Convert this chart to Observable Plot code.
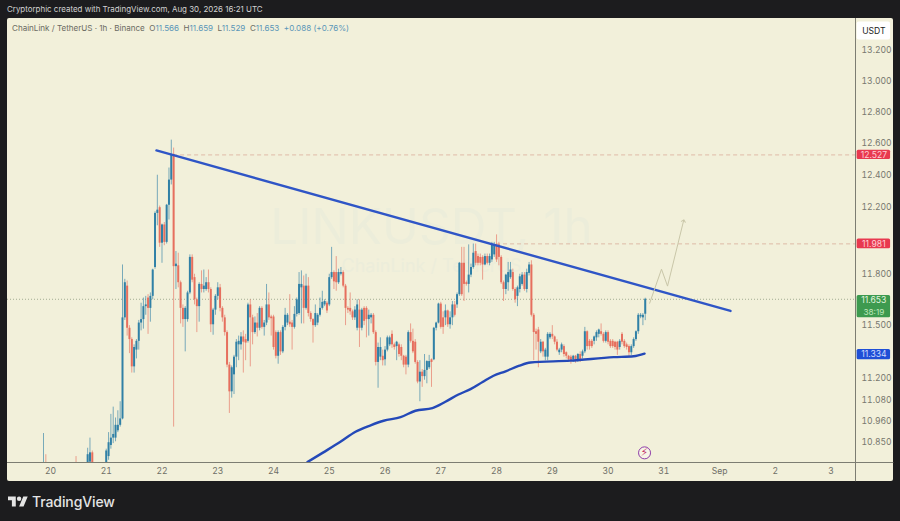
<!DOCTYPE html>
<html>
<head>
<meta charset="utf-8">
<script src="https://cdn.jsdelivr.net/npm/d3@7"></script>
<script src="https://cdn.jsdelivr.net/npm/@observablehq/plot@0.6"></script>
<style>
html,body{margin:0;padding:0;background:#1c1c1e;width:900px;height:521px;overflow:hidden;font-family:Inter,"Liberation Sans",sans-serif}
#head{height:18px;line-height:19px;padding-left:7px;font-size:7.95px;color:#d2d2d2;white-space:nowrap}
#wrap{position:relative;margin-left:7px;width:886px;height:463px}
#wrap svg{display:block;border-radius:2px}
#legend{position:absolute;left:5px;top:5px;font-size:8.05px;line-height:11px;color:#6b6b62;white-space:nowrap}
#legend b{font-weight:400;color:#5a96b8}
#foot{position:relative;height:40px;color:#e4e4e4;font-size:14px;font-weight:500;white-space:nowrap}
#foot svg{position:absolute;left:8px;top:13px}
#foot span{position:absolute;left:32px;top:12px;letter-spacing:-.1px}
</style>
</head>
<body>
<div id="head">Cryptorphic created with TradingView.com, Aug 30, 2026 16:21 UTC</div>
<div id="wrap">
  <div id="chart"></div>
  <div id="legend">ChainLink / TetherUS · 1h · Binance&nbsp; O<b>11.566</b>&nbsp; H<b>11.659</b>&nbsp; L<b>11.529</b>&nbsp; C<b>11.653</b>&nbsp; <b>+0.088 (+0.76%)</b></div>
</div>
<div id="foot">
  <svg width="20" height="16" viewBox="0 0 36 28"><path fill="#e4e4e4" d="M14 22H7V11H0V4h14v18zM28 22h-8l7.5-18h8L28 22z"/><circle fill="#e4e4e4" cx="20" cy="8" r="4"/></svg>
  <span>TradingView</span>
</div>
<script>
// Hourly candles, first one at 19 Aug 21:00 UTC (null = below the visible range)
const firstHour = -3;
const opens = [10.70,10.73,null,null,null,null,null,null,null,null,null,null,null,null,10.72,null,null,null,null,10.73,10.74,10.79,null,null,null,null,null,10.72,10.77,10.83,10.87,10.87,10.91,10.94,
10.975,11.545,11.73,11.485,11.42,11.265,11.36,11.41,11.515,11.535,
11.61,11.66,11.60,11.67,11.84,12.165,12.20,11.985,12.095,11.99,
12.215,12.37,12.53,11.845,11.85,11.75,11.60,11.535,11.535,11.69,
11.90,11.78,11.65,11.61,11.74,11.71,11.71,11.75,11.71,11.505,
11.59,11.67,11.72,11.60,11.545,11.46,11.275,11.125,11.22,11.32,
11.39,11.39,11.435,11.42,11.41,11.62,11.545,11.46,11.515,11.485,
11.60,11.49,11.515,11.62,11.55,11.55,11.46,11.325,11.46,11.35,
11.49,11.515,11.52,11.515,11.49,11.565,11.57,11.72,11.73,11.60,
11.73,11.57,11.535,11.50,11.515,11.56,11.60,11.62,11.63,11.62,
11.78,11.81,11.81,11.75,11.80,11.81,11.73,11.60,11.60,11.58,
11.545,11.485,11.59,11.485,11.60,11.60,11.535,11.545,11.56,11.46,
11.29,11.32,11.325,11.305,11.36,11.39,11.45,11.39,11.38,11.39,
11.375,11.325,11.32,11.275,11.46,11.41,11.405,11.29,11.18,11.235,
11.21,11.245,11.26,11.305,11.305,11.485,11.515,11.625,11.545,11.545,
11.585,11.505,11.545,11.62,11.62,11.68,11.865,11.865,11.75,11.74,
11.795,11.84,11.935,11.905,11.90,11.90,11.855,11.905,11.865,11.885,
11.915,11.975,11.975,11.90,11.75,11.71,11.75,11.78,11.81,11.71,
11.67,11.71,11.74,11.795,11.71,11.805,11.855,11.56,11.465,11.475,
11.35,11.405,11.32,11.32,11.43,11.45,11.435,11.405,11.345,11.36,
11.38,11.345,11.325,11.32,11.305,11.325,11.30,11.335,11.325,11.35,
11.465,11.41,11.41,11.41,11.43,11.45,11.465,11.45,11.41,11.46,
11.41,11.41,11.405,11.405,11.375,11.45,11.41,11.39,11.38,11.345,
11.38,11.42,11.465,11.55,11.545,11.566];
const closes = [10.73,10.70,null,null,null,null,null,null,null,null,null,null,null,null,10.70,null,null,null,null,10.78,10.79,10.72,null,null,null,null,null,10.80,10.845,10.87,10.89,10.94,10.94,10.975,
11.545,11.75,11.485,11.42,11.265,11.375,11.41,11.515,11.535,11.61,
11.62,11.60,11.67,11.825,12.165,12.185,11.985,12.095,11.99,12.215,
12.37,12.53,11.845,11.86,11.75,11.60,11.535,11.60,11.69,11.90,
11.765,11.65,11.61,11.74,11.71,11.73,11.75,11.71,11.505,11.59,
11.67,11.72,11.60,11.545,11.46,11.275,11.125,11.26,11.32,11.405,
11.41,11.435,11.405,11.40,11.62,11.545,11.46,11.515,11.485,11.60,
11.49,11.515,11.62,11.545,11.54,11.375,11.325,11.46,11.35,11.49,
11.56,11.56,11.505,11.49,11.565,11.65,11.74,11.74,11.60,11.73,
11.57,11.535,11.50,11.57,11.56,11.60,11.635,11.64,11.585,11.78,
11.81,11.755,11.75,11.81,11.81,11.73,11.60,11.59,11.58,11.545,
11.59,11.62,11.485,11.59,11.525,11.535,11.56,11.56,11.46,11.29,
11.375,11.375,11.30,11.36,11.43,11.43,11.39,11.375,11.405,11.335,
11.325,11.275,11.275,11.46,11.41,11.35,11.29,11.18,11.235,11.21,
11.245,11.295,11.295,11.29,11.485,11.515,11.625,11.49,11.49,11.585,
11.505,11.545,11.62,11.56,11.68,11.865,11.68,11.74,11.74,11.795,
11.84,11.925,11.865,11.865,11.865,11.855,11.905,11.865,11.905,11.975,
11.975,11.885,11.90,11.75,11.71,11.795,11.81,11.825,11.71,11.65,
11.72,11.785,11.795,11.71,11.81,11.855,11.56,11.46,11.45,11.405,
11.405,11.35,11.36,11.45,11.45,11.435,11.405,11.36,11.36,11.39,
11.335,11.325,11.305,11.30,11.325,11.30,11.335,11.305,11.35,11.465,
11.38,11.38,11.38,11.435,11.46,11.475,11.45,11.41,11.46,11.405,
11.38,11.38,11.375,11.36,11.41,11.405,11.38,11.375,11.345,11.38,
11.42,11.465,11.56,11.56,11.56,11.653];
const highs = [10.895,10.78,null,null,null,null,null,null,null,null,null,null,null,null,10.77,null,null,null,null,10.815,10.87,10.80,null,null,null,null,null,10.81,10.90,11.00,11.04,10.98,11.02,11.07,
11.855,11.77,11.76,11.50,11.43,11.39,11.42,11.53,11.63,11.66,
11.67,11.68,11.69,11.83,12.175,12.40,12.21,12.10,12.11,12.22,
12.445,12.62,12.57,11.935,11.925,11.76,11.62,11.61,11.70,11.915,
11.915,11.80,11.66,11.75,11.82,11.825,11.78,11.825,11.72,11.60,
11.68,11.75,11.74,11.61,11.56,11.47,11.29,11.27,11.33,11.42,
11.44,11.46,11.47,11.45,11.63,11.65,11.56,11.55,11.57,11.61,
11.61,11.53,11.74,11.69,11.56,11.56,11.47,11.47,11.47,11.50,
11.60,11.57,11.68,11.53,11.61,11.66,11.81,11.82,11.79,11.80,
11.78,11.58,11.54,11.62,11.57,11.66,11.70,11.65,11.64,11.80,
11.96,11.82,11.905,11.83,11.84,11.82,11.74,11.61,11.69,11.59,
11.61,11.65,11.65,11.60,11.61,11.61,11.59,11.57,11.57,11.47,
11.40,11.43,11.36,11.38,11.44,11.44,11.47,11.40,11.41,11.40,
11.39,11.33,11.33,11.47,11.51,11.48,11.42,11.30,11.30,11.25,
11.335,11.30,11.33,11.31,11.49,11.52,11.63,11.635,11.58,11.62,
11.59,11.58,11.64,11.64,11.69,11.87,11.96,11.96,11.76,11.975,
11.86,11.98,11.98,11.92,11.92,11.91,11.92,11.92,11.92,11.99,
11.99,12.035,11.99,11.91,11.76,11.80,11.87,11.87,11.83,11.72,
11.73,11.80,11.81,11.81,11.83,11.87,11.88,11.57,11.48,11.49,
11.42,11.41,11.37,11.46,11.46,11.50,11.44,11.42,11.37,11.40,
11.39,11.35,11.33,11.33,11.33,11.33,11.34,11.35,11.36,11.49,
11.47,11.42,11.42,11.44,11.47,11.48,11.51,11.46,11.47,11.47,
11.42,11.42,11.41,11.41,11.42,11.46,11.42,11.40,11.39,11.39,
11.43,11.47,11.57,11.57,11.57,11.659];
const lows = [10.68,10.68,null,null,null,null,null,null,null,null,null,null,null,null,10.68,null,null,null,null,10.70,10.70,10.70,null,null,null,null,null,10.70,10.75,10.81,10.84,10.85,10.90,10.93,
10.97,11.53,11.44,11.34,11.23,11.23,11.31,11.36,11.47,11.48,
11.56,11.45,11.52,11.65,11.83,12.09,11.96,11.865,11.97,11.98,
12.125,12.34,10.93,11.71,11.72,11.51,11.49,11.35,11.52,11.68,
11.75,11.62,11.46,11.52,11.69,11.69,11.70,11.69,11.46,11.445,
11.56,11.65,11.58,11.52,11.44,11.26,11.005,11.09,11.11,11.26,
11.30,11.36,11.23,11.30,11.40,11.265,11.39,11.45,11.435,11.47,
11.48,11.44,11.50,11.53,11.44,11.36,11.31,11.28,11.33,11.34,
11.47,11.50,11.49,11.36,11.48,11.55,11.56,11.51,11.51,11.59,
11.55,11.52,11.40,11.49,11.50,11.55,11.59,11.61,11.57,11.61,
11.77,11.71,11.70,11.74,11.79,11.72,11.50,11.57,11.56,11.53,
11.53,11.47,11.375,11.47,11.50,11.43,11.44,11.51,11.45,11.27,
11.145,11.30,11.27,11.27,11.35,11.38,11.37,11.36,11.30,11.32,
11.30,11.26,11.22,11.26,11.40,11.34,11.28,11.17,11.07,11.15,
11.19,11.17,11.25,11.15,11.30,11.47,11.51,11.48,11.45,11.50,
11.49,11.48,11.50,11.55,11.60,11.67,11.67,11.64,11.73,11.69,
11.78,11.83,11.85,11.85,11.85,11.765,11.85,11.855,11.85,11.87,
11.90,11.87,11.85,11.74,11.64,11.68,11.70,11.77,11.70,11.63,
11.61,11.69,11.73,11.70,11.69,11.79,11.55,11.30,11.36,11.26,
11.34,11.32,11.30,11.30,11.42,11.42,11.39,11.35,11.33,11.345,
11.32,11.31,11.29,11.28,11.29,11.285,11.29,11.29,11.31,11.34,
11.36,11.36,11.37,11.39,11.41,11.43,11.44,11.40,11.40,11.39,
11.37,11.37,11.36,11.33,11.36,11.39,11.37,11.36,11.32,11.33,
11.37,11.41,11.45,11.54,11.50,11.529];

// Drawn lines (hours after 20 Aug 00:00 UTC, price)
const trendHours = [45.6, 292.7];
const trendPrices = [12.555, 11.585];
const curveHours = [110.6,117.1,124.8,131.3,137.8,143.4,150.7,157.1,164.4,170,175.6,180.8,186,190.7,195.9,201.5,206.6,223.8,242.4,251,255.7];
const curvePrices = [10.74,10.79,10.85,10.905,10.94,10.965,10.985,11.02,11.035,11.07,11.11,11.14,11.18,11.215,11.24,11.27,11.29,11.30,11.32,11.325,11.34];
const pathHours = [257.9, 263, 265.6, 272.5];
const pathPrices = [11.63, 11.83, 11.73, 12.12];

// Axes
const priceTicks = [13.2,13,12.8,12.6,12.4,12.2,11.8,11.5,11.2,11.08,10.96,10.85];
const dayHours = [0,24,48,72,96,120,144,168,192,216,240,264,288,312,336];
const dayLabels = ["20","21","22","23","24","25","26","27","28","29","30","31","Sep","2","3"];

// Price tags
const tagPrices = [12.527, 11.981, 11.334];
const tagTexts = ["12.527", "11.981", "11.334"];
const tagColors = ["#e8394f", "#e8394f", "#1f4fd6"];
const tagInks = ["#ffd0d5", "#ffd0d5", "#cfdcff"];
const lastPrice = 11.653;
const countdown = "38:19";

const t0 = Date.UTC(2026, 7, 20);
const T = h => new Date(t0 + h * 36e5);
const candles = opens.map((o, i) => ({t: T(firstHour + i), o, c: closes[i], h: highs[i], l: lows[i]}));
const UP = "#3080a6", DOWN = "#e66f5e";
const col = d => (d.c >= d.o ? UP : DOWN);
const zip = (hs, ps) => hs.map((h, i) => ({t: T(h), p: ps[i]}));
const INK = "#2f55c6";

const xLeft = T(-18.5), xRight = T(346.5);      // chart pane
const colA = T(347.2), colB = T(361.6), colEnd = T(363);   // price column
const floor = 10.738, ceil = 13.413, stripEnd = 10.635;
const tagH = 0.029;

const fig = Plot.plot({
  width: 886, height: 463,
  marginLeft: 0, marginRight: 38, marginTop: 0, marginBottom: 19,
  style: {background: "#f2f0da", fontFamily: "Inter, Liberation Sans, sans-serif", fontSize: "8.6px", overflow: "visible"},
  x: {type: "utc", domain: [xLeft, xRight]},
  y: {type: "log", domain: [floor, ceil]},
  marks: [
    Plot.text(["LINKUSDT, 1h"], {frameAnchor: "middle", dy: -12, fontSize: 49.5, fill: "#ecedda", fontWeight: 400}),
    Plot.text(["ChainLink / TetherUS"], {frameAnchor: "middle", dy: 26, fontSize: 18, fill: "#ecedda"}),
    Plot.ruleY([12.527], {x1: T(53), x2: xRight, stroke: "#dcb3a0", strokeWidth: 0.9, strokeDasharray: "4 3"}),
    Plot.ruleY([11.981], {x1: T(192), x2: xRight, stroke: "#dcb3a0", strokeWidth: 0.9, strokeDasharray: "4 3"}),
    Plot.ruleY([lastPrice], {x1: xLeft, x2: xRight, stroke: "#9aa58a", strokeWidth: 0.9, strokeDasharray: "1 2"}),
    Plot.ruleX(candles, {x: "t", y1: "l", y2: "h", stroke: col, strokeWidth: 0.9, strokeOpacity: 0.7, clip: true}),
    Plot.ruleX(candles, {x: "t", y1: "o", y2: "c", stroke: col, strokeWidth: 2, clip: true}),
    Plot.line(zip(curveHours, curvePrices), {x: "t", y: "p", stroke: "#2449b8", strokeWidth: 2.4, curve: "monotone-x", clip: true}),
    Plot.line(zip(trendHours, trendPrices), {x: "t", y: "p", stroke: INK, strokeWidth: 2.4}),
    Plot.line(zip(pathHours, pathPrices), {x: "t", y: "p", stroke: "#c9c6a8", strokeWidth: 1, markerEnd: "arrow"}),
    Plot.dot([{t: T(255.7), p: 10.79}], {x: "t", y: "p", r: 6, stroke: "#8e3ca8", strokeWidth: 1, fill: "#f7f5e6"}),
    Plot.text([{t: T(255.7), p: 10.79, s: "⚡"}], {x: "t", y: "p", text: "s", fontSize: 10.5, fontWeight: "bold", fill: "#c2336a", fontFamily: "DejaVu Sans"}),
    Plot.ruleX([xRight], {y1: stripEnd, y2: ceil, stroke: "#7d7d72", strokeWidth: 1}),
    Plot.ruleY([floor], {x1: xLeft, x2: colEnd, stroke: "#7d7d72", strokeWidth: 1}),
    Plot.axisX({anchor: "bottom", ticks: dayHours.map(T), tickFormat: d => dayLabels[dayHours.indexOf((d - t0) / 36e5)], tickSize: 0, tickPadding: 5, label: null, fill: "#6e6e66"}),
    Plot.axisY({anchor: "right", ticks: priceTicks, tickFormat: d => d.toFixed(3), tickSize: 0, tickPadding: 6, label: null, fill: "#77776e"}),
    Plot.rect([{p: 13.36}], {x1: colA, x2: colB, y1: 13.27, y2: 13.39, fill: "#ffffff", r: 2}),
    Plot.text(["USDT"], {x: T(354.4), y: 13.33, fill: "#222", fontSize: 8.6}),
    Plot.rect(tagPrices, {x1: colA, x2: colB, y1: d => d - tagH, y2: d => d + tagH, fill: (d, i) => tagColors[i], r: 1.5}),
    Plot.text(tagPrices, {x: T(354.4), y: d => d, text: (d, i) => tagTexts[i], fill: (d, i) => tagInks[i], fontSize: 8.6}),
    Plot.rect([lastPrice], {x1: colA, x2: colB, y1: 11.545, y2: 11.675, fill: "#3d9a4f", r: 1.5}),
    Plot.text([lastPrice], {x: T(354.4), y: 11.65, text: d => d.toFixed(3), fill: "#e2f5df", fontSize: 8.6}),
    Plot.text([countdown], {x: T(354.4), y: 11.575, fill: "#bfe8bd", fontSize: 8.2})
  ]
});
document.getElementById("chart").appendChild(fig);
</script>
</body>
</html>
